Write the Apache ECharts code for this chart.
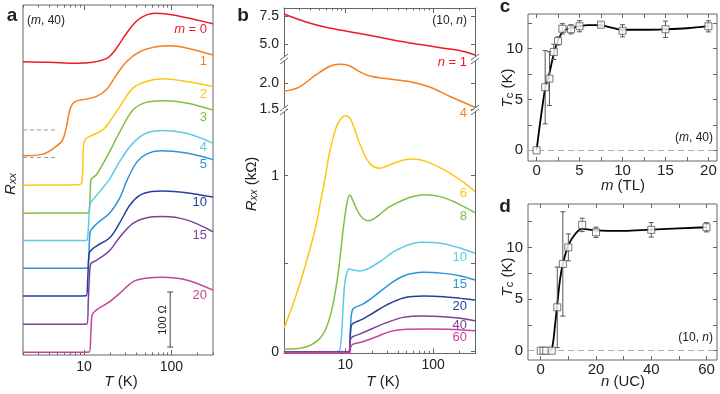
<!DOCTYPE html>
<html>
<head>
<meta charset="utf-8">
<script src="https://cdn.jsdelivr.net/npm/echarts@6/dist/echarts.min.js"></script>
<style>
html, body { margin: 0; padding: 0; background: #fff; }
#chart { width: 720px; height: 394px; }
</style>
</head>
<body>
<div id="chart"></div>
<script>
var FONT = 'Liberation Sans';
var INK = '#222';
var AXIS = '#666';

// ---- panel a : (m, 40), curves offset, [T (K), R (ohm)]
var aM0 = [[2,533],[4,532],[8.2,530],[12.6,532],[18.2,539],[22.4,553],[30.8,585],[40,607],[52,618],[65,621],[85,620],[150,613],[300,602]];
var aM1 = [[2,362],[3.4,365],[4.8,379],[5.7,391],[6.3,415],[6.9,446],[7.8,460],[10.6,465],[13.9,470],[18,482],[23.5,509],[30.6,533],[43.4,551],[67,560],[96,562],[149,558],[300,545]];
var aM2 = [[2,308.5],[5.3,309],[8.9,310],[9.4,313],[9.66,336],[9.8,372],[9.95,385],[10.45,393],[11.6,397],[16.4,409],[19.7,424],[25.6,451],[36.3,485],[51.3,497],[80,502],[149,497],[300,488]];
var aM3 = [[2,257.6],[5.3,258],[11.0,258],[11.5,264],[11.8,300],[12.0,318],[13.9,328],[19.7,370],[25.6,405],[36.3,445],[51.3,459],[80,462],[149,458],[300,445]];
var aM4 = [[2,208],[5.3,208],[10.6,208],[11.0,215],[11.3,240],[11.6,270],[11.9,277],[13.9,290],[19.7,320],[25.6,352],[36.3,385],[51.3,403],[80,408],[149,403],[300,385]];
var aM5 = [[2,157.6],[5.3,157.6],[11.0,158],[11.3,175],[11.6,215],[11.9,226],[13.9,238],[19.7,258],[25.6,285],[30.6,315],[40,350],[52,365],[75,371],[149,367],[300,355]];
var aM10 = [[2,107],[5.3,107],[10.6,107.5],[11.0,135],[11.3,175],[11.6,187],[13.9,198],[19.7,213],[25.6,240],[33.4,272],[43.4,290],[60,297],[80,298],[149,295],[300,287]];
var aM15 = [[2,56],[5.3,56],[10.8,56.5],[11.2,100],[11.6,150],[12.0,166],[13.9,172],[19.7,190],[25.6,214],[36.3,239],[51.3,249],[80,251.5],[149,245.5],[300,224]];
var aM20 = [[2,5],[5.3,5],[11.5,5.5],[11.9,30],[12.2,65],[12.5,74],[13.9,82],[19.7,97],[25.6,112],[36.3,133],[51.3,139.5],[80,141.3],[149,136.4],[300,118]];
var aLabels = ['m = 0', '1', '2', '3', '4', '5', '10', '15', '20'];
var aScaleBar = [97, 14.5, 114.5];   // T, R from, R to (100 ohm)
var aDashLevels = [409, 359];
var aDashT = [2, 5];

// ---- panel b : (10, n), [T (K), R (kohm)]
var bN1 = [[2,7.68],[3.5,6.99],[6.0,6.49],[11.1,6.10],[20.7,5.71],[35,5.36],[65,5.0],[121,4.67],[206,4.40],[300,4.02]];
var bN4 = [[2,1.852],[2.94,1.923],[4.6,2.16],[6.5,2.319],[8.5,2.365],[11.1,2.338],[14.5,2.223],[18.9,2.14],[32,2.083],[55,2.031],[93,1.923],[158,1.742],[300,1.54]];
var bN6 = [[2,0.133],[2.7,0.31],[3.5,0.49],[4.6,0.71],[5.2,0.85],[5.9,0.99],[6.6,1.13],[7.8,1.27],[8.9,1.325],[10,1.34],[11.6,1.315],[14.5,1.184],[18.9,1.07],[24.7,1.042],[32,1.061],[46,1.089],[60,1.095],[85,1.08],[145,1.023],[225,0.96],[300,0.909]];
var bN8 = [[2,0.014],[3.5,0.025],[5,0.07],[6,0.13],[7.1,0.25],[8.15,0.42],[8.9,0.58],[9.7,0.74],[10.6,0.86],[11.3,0.89],[12.1,0.862],[13.9,0.795],[15.8,0.758],[18.1,0.744],[21.6,0.758],[26.9,0.795],[32,0.824],[55,0.877],[78,0.892],[121,0.881],[189,0.843],[300,0.79]];
var bN10 = [[2,0],[8.0,0],[8.6,0.01],[9.0,0.08],[9.4,0.24],[9.8,0.38],[10.3,0.44],[11.0,0.47],[12.2,0.465],[14.5,0.459],[17.3,0.467],[24.7,0.511],[38.5,0.578],[71.5,0.622],[121,0.616],[189,0.593],[300,0.559]];
var bN15 = [[2,0],[10.9,0],[11.3,0.08],[11.6,0.19],[12.0,0.235],[12.7,0.25],[15.8,0.27],[20.7,0.31],[29.4,0.37],[45.8,0.43],[78,0.451],[132,0.445],[206,0.43],[300,0.407]];
var bN20 = [[2,0],[11.0,0],[11.3,0.06],[11.6,0.14],[12.1,0.16],[15.8,0.185],[20.7,0.22],[29.4,0.265],[45.8,0.305],[78,0.316],[132,0.3125],[206,0.303],[300,0.294]];
var bN40 = [[2,0],[11.0,0],[11.3,0.045],[11.7,0.08],[14.5,0.1],[20.7,0.133],[29.4,0.165],[45.8,0.195],[78,0.203],[132,0.199],[206,0.19],[300,0.176]];
var bN60 = [[2,-0.006],[11.2,-0.006],[11.5,0.025],[12.1,0.042],[15.8,0.057],[22.6,0.085],[32,0.114],[50,0.127],[85,0.129],[145,0.127],[300,0.119]];
var bLabels = ['n = 1', '4', '6', '8', '10', '15', '20', '40', '60'];

// ---- panel c : Tc vs m
var cM   = [0, 1, 1.5, 2, 2.5, 3, 4, 5, 7.5, 10, 15, 20];
var cTc  = [0, 6.2, 7.05, 9.67, 10.75, 11.95, 11.9, 12.2, 12.35, 11.75, 11.9, 12.19];
var cErr = [0, 3.6, 2.65, 0.75, 0.4, 0.5, 0.45, 0.55, 0.2, 0.6, 0.8, 0.55];
var cFit = [[0,0],[1,6.1],[1.5,7.6],[2,9.5],[2.5,10.8],[3,11.6],[3.5,11.9],[4,12.0],[5,12.2],[6,12.3],[7.5,12.3],[8.5,12.1],[10,11.85],[12.5,11.85],[15,11.9],[17.5,12.0],[20,12.2]];

// ---- panel d : Tc vs n
var dN   = [0, 1, 2, 4, 6, 8, 10, 15, 20, 40, 60];
var dTc  = [0, 0, 0, 0, 4.2, 8.4, 10.0, 12.18, 11.46, 11.7, 11.95];
var dErr = [0, 0, 0, 0, 3.9, 5.05, 1.3, 0.65, 0.5, 0.7, 0.45];
var dFit = [[0,0],[3.5,0],[4.3,0.5],[5,2],[6,4.5],[7,6.9],[8,8.4],[10,10.2],[12.5,11.3],[15,11.8],[20,11.65],[30,11.6],[40,11.72],[60,11.95]];

var majorT = [10, 100];
var minorT = [2, 3, 4, 5, 6, 7, 8, 9, 20, 30, 40, 50, 60, 70, 80, 90, 200, 300];

var palette = ['#ec1c24', '#f47f20', '#fcc710', '#80bf40', '#5ecbe6', '#2f93da', '#29409a', '#7d3f9c', '#c5449b'];

var chart = echarts.init(document.getElementById('chart'));

var xAxes = [], yAxes = [], series = [], graphics = [];

function ticks(len, values) {
    return { show: true, inside: true, length: len, customValues: values, lineStyle: { color: AXIS, width: 1 } };
}

function addLogX(grid, pos, labels, line) {
    xAxes.push({
        type: 'log', logBase: 10, gridIndex: grid, position: pos, min: 2, max: 300,
        axisLine: { show: line, onZero: false, lineStyle: { color: AXIS } },
        axisTick: ticks(5, majorT),
        axisLabel: { show: labels, customValues: majorT, color: INK, fontFamily: FONT, fontSize: 14, margin: 5 },
        splitLine: { show: false }
    });
    var idx = xAxes.length - 1;
    xAxes.push({
        type: 'log', logBase: 10, gridIndex: grid, position: pos, min: 2, max: 300,
        axisLine: { show: false, onZero: false }, axisTick: ticks(2.5, minorT),
        axisLabel: { show: false }, splitLine: { show: false }
    });
    return idx;
}

function addValX(grid, pos, min, max, tickVals, labelVals, size) {
    xAxes.push({
        type: 'value', gridIndex: grid, position: pos, min: min, max: max,
        axisLine: { show: false, onZero: false }, axisTick: ticks(4, tickVals),
        axisLabel: { show: !!labelVals, customValues: labelVals || [], color: INK, fontFamily: FONT, fontSize: size, margin: 2 },
        splitLine: { show: false }
    });
    return xAxes.length - 1;
}

function addY(grid, pos, min, max, tickVals, labelVals, line, fmt, size) {
    yAxes.push({
        type: 'value', gridIndex: grid, position: pos, min: min, max: max,
        axisLine: { show: line, onZero: false, lineStyle: { color: AXIS } },
        axisTick: ticks(4, tickVals),
        axisLabel: { show: !!labelVals, customValues: labelVals || [], color: INK, fontFamily: FONT, fontSize: size || 14, margin: 5, formatter: fmt },
        splitLine: { show: false }
    });
    return yAxes.length - 1;
}

// grids
var frame = { show: true, borderColor: AXIS, borderWidth: 1, backgroundColor: 'transparent' };
var grids = [
    Object.assign({ left: 23, top: 5, width: 190, height: 350 }, frame),
    { left: 284, top: 8, width: 191, height: 51 },
    { left: 284, top: 59, width: 191, height: 51 },
    { left: 284, top: 110, width: 191, height: 243.3 },
    Object.assign({ left: 528, top: 14, width: 189, height: 147 }, frame),
    Object.assign({ left: 528, top: 204, width: 189, height: 156 }, frame)
];
grids.forEach(function (g) { g.outerBoundsMode = 'none'; });

// panel a axes
var axA = addLogX(0, 'bottom', true, false);
addLogX(0, 'top', false, false);
var ayA = yAxes.push({ type: 'value', gridIndex: 0, min: 0, max: 636, show: false, axisLine: { onZero: false } }) - 1;

// panel b axes
var axB3 = addLogX(3, 'bottom', true, true);
var axB1 = addLogX(1, 'top', false, true);
var axB2 = xAxes.push({ type: 'log', gridIndex: 2, min: 2, max: 300, show: false, axisLine: { onZero: false } }) - 1;
var fmt1 = function (v) { return Number(v).toFixed(1); };
var fmt0 = function (v) { return String(Math.round(v)); };
var ayB1 = addY(1, 'left', 3.66, 8.21, [5, 7.5], [5, 7.5], true, fmt1);
addY(1, 'right', 3.66, 8.21, [5, 7.5], null, true);
var ayB2 = addY(2, 'left', 1.487, 2.467, [1.5, 2], [1.5, 2], true, fmt1);
addY(2, 'right', 1.487, 2.467, [1.5, 2], null, true);
var ayB3 = addY(3, 'left', -0.009, 1.373, [0, 0.5, 1], [0, 1], true, fmt0);
addY(3, 'right', -0.009, 1.373, [0, 0.5, 1], null, true);

// panel c axes
var cTicksX = [0, 2.5, 5, 7.5, 10, 12.5, 15, 17.5, 20];
var tcTicks = [0, 2.5, 5, 7.5, 10, 12.5];
var axC = addValX(4, 'bottom', -1, 21, cTicksX, [0, 5, 10, 15, 20], 15);
addValX(4, 'top', -1, 21, cTicksX, null, 15);
var ayC = addY(4, 'left', -1.05, 13.4, tcTicks, [0, 5, 10], false, fmt0, 15);
addY(4, 'right', -1.05, 13.4, tcTicks, null, false);

// panel d axes
var dTicksX = [0, 10, 20, 30, 40, 50, 60];
var axD = addValX(5, 'bottom', -4.6, 63.8, dTicksX, [0, 20, 40, 60], 15);
addValX(5, 'top', -4.6, 63.8, dTicksX, null, 15);
var ayD = addY(5, 'left', -0.9, 14.2, tcTicks, [0, 5, 10], false, fmt0, 15);
addY(5, 'right', -0.9, 14.2, tcTicks, null, false);

function curve(data, color, xi, yi) {
    return {
        type: 'line', xAxisIndex: xi, yAxisIndex: yi, data: data,
        smooth: 0.35, symbol: 'none', showSymbol: false,
        lineStyle: { color: color, width: 1.5 }, z: 3, silent: true
    };
}

// panel a series
[aM0, aM1, aM2, aM3, aM4, aM5, aM10, aM15, aM20].forEach(function (d, i) {
    series.push(curve(d, palette[i], axA, ayA));
});
aDashLevels.forEach(function (lv) {
    series.push({
        type: 'line', xAxisIndex: axA, yAxisIndex: ayA, symbol: 'none', silent: true,
        data: [[aDashT[0], lv], [aDashT[1], lv]],
        lineStyle: { color: '#999', width: 1, type: [4, 3] }, z: 2
    });
});
series.push({
    type: 'custom', xAxisIndex: axA, yAxisIndex: ayA, coordinateSystem: 'cartesian2d', silent: true,
    data: [aScaleBar], encode: { x: 0, y: 1 }, z: 4,
    renderItem: function (p, api) {
        var a = api.coord([api.value(0), api.value(1)]);
        var b = api.coord([api.value(0), api.value(2)]);
        var st = { stroke: '#444', lineWidth: 1 };
        return { type: 'group', children: [
            { type: 'line', shape: { x1: a[0], y1: a[1], x2: b[0], y2: b[1] }, style: st },
            { type: 'line', shape: { x1: a[0] - 3, y1: a[1], x2: a[0] + 3, y2: a[1] }, style: st },
            { type: 'line', shape: { x1: b[0] - 3, y1: b[1], x2: b[0] + 3, y2: b[1] }, style: st }
        ] };
    }
});

// panel b series
series.push(curve(bN1, palette[0], axB1, ayB1));
series.push(curve(bN4, palette[1], axB2, ayB2));
[bN6, bN8, bN10, bN15, bN20, bN40, bN60].forEach(function (d, i) {
    series.push(curve(d, palette[i + 2], axB3, ayB3));
});

// panels c, d
function errorBars(xi, yi, xs, ys, es) {
    var data = [];
    for (var i = 0; i < xs.length; i++) if (es[i] > 0) data.push([xs[i], ys[i], es[i]]);
    return {
        type: 'custom', xAxisIndex: xi, yAxisIndex: yi, coordinateSystem: 'cartesian2d', silent: true,
        data: data, encode: { x: 0, y: 1 }, z: 4,
        renderItem: function (p, api) {
            var x = api.value(0), y = api.value(1), e = api.value(2);
            var t = api.coord([x, y + e]), b = api.coord([x, y - e]);
            var st = { stroke: '#555', lineWidth: 1 };
            return { type: 'group', children: [
                { type: 'line', shape: { x1: t[0], y1: t[1], x2: b[0], y2: b[1] }, style: st },
                { type: 'line', shape: { x1: t[0] - 2.5, y1: t[1], x2: t[0] + 2.5, y2: t[1] }, style: st },
                { type: 'line', shape: { x1: b[0] - 2.5, y1: b[1], x2: b[0] + 2.5, y2: b[1] }, style: st }
            ] };
        }
    };
}
function tcPanel(xi, yi, xs, ys, es, fit) {
    series.push({
        type: 'line', xAxisIndex: xi, yAxisIndex: yi, data: fit, smooth: 0.35,
        symbol: 'none', silent: true, lineStyle: { color: '#000', width: 1.8 }, z: 3,
        markLine: {
            silent: true, symbol: 'none', label: { show: false },
            lineStyle: { color: '#aaa', width: 1, type: [6, 4] },
            data: [{ yAxis: 0 }]
        }
    });
    series.push(errorBars(xi, yi, xs, ys, es));
    series.push({
        type: 'scatter', xAxisIndex: xi, yAxisIndex: yi, silent: true, symbol: 'rect', symbolSize: 7,
        data: xs.map(function (x, i) { return [x, ys[i]]; }),
        itemStyle: { color: '#fff', borderColor: '#555', borderWidth: 1 }, z: 5
    });
}
tcPanel(axC, ayC, cM, cTc, cErr, cFit);
tcPanel(axD, ayD, dN, dTc, dErr, dFit);

// text annotations
function txt(x, y, text, o) {
    o = o || {};
    return {
        type: 'text', x: x, y: y, rotation: o.rot || 0, z: 100, silent: true,
        style: {
            text: text, fill: o.color || INK, fontFamily: FONT, fontSize: o.size || 13,
            fontWeight: o.bold ? 'bold' : 'normal',
            align: o.align || 'center', verticalAlign: 'middle',
            rich: {
                i: { fontStyle: 'italic', fontFamily: FONT, fontSize: o.size || 13, fill: o.color || INK },
                s: { fontStyle: o.subItalic ? 'italic' : 'normal', fontFamily: FONT, fontSize: Math.round((o.size || 13) * 0.7), fill: o.color || INK, verticalAlign: 'bottom' }
            }
        }
    };
}

// panel letters
graphics.push(txt(12, 16, 'a', { bold: true, size: 19 }));
graphics.push(txt(243, 16, 'b', { bold: true, size: 19 }));
graphics.push(txt(505, 7, 'c', { bold: true, size: 19 }));
graphics.push(txt(505, 207, 'd', { bold: true, size: 19 }));

// panel a texts
graphics.push(txt(27, 21, '({i|m}, 40)', { align: 'left', size: 12 }));
var aLabelY = [29, 61, 94, 117, 147, 164, 202, 235, 295];
aLabels.forEach(function (t, i) {
    var s = i === 0 ? '{i|m} = 0' : t;
    graphics.push(txt(207, aLabelY[i], s, { align: 'right', color: palette[i], size: 13 }));
});
graphics.push(txt(163, 320, '100 Ω', { rot: Math.PI / 2, size: 11 }));
graphics.push(txt(11, 184, '{i|R}{s|xx}', { rot: Math.PI / 2, size: 15, subItalic: true }));
graphics.push(txt(121, 382, '{i|T} (K)', { size: 15 }));

// panel b texts
graphics.push(txt(467, 21, '(10, {i|n})', { align: 'right', size: 12 }));
var bLabelY = [62, 113, 193, 216, 257, 284, 306, 325, 337];
bLabels.forEach(function (t, i) {
    var s = i === 0 ? '{i|n} = 1' : t;
    graphics.push(txt(467, bLabelY[i], s, { align: 'right', color: palette[i], size: 13 }));
});
graphics.push(txt(252, 184, '{i|R}{s|xx} (kΩ)', { rot: Math.PI / 2, size: 15, subItalic: true }));
graphics.push(txt(383, 382, '{i|T} (K)', { size: 15 }));

// axis break marks
[[284, 59], [475, 59], [284, 110], [475, 110]].forEach(function (p) {
    var cx = p[0], cy = p[1];
    graphics.push({ type: 'rect', z: 99, silent: true, shape: { x: cx - 2, y: cy - 2, width: 4, height: 4 }, style: { fill: '#fff' } });
    graphics.push({ type: 'line', z: 100, silent: true, shape: { x1: cx - 4, y1: cy + 1, x2: cx + 4, y2: cy - 5 }, style: { stroke: AXIS, lineWidth: 1 } });
    graphics.push({ type: 'line', z: 100, silent: true, shape: { x1: cx - 4, y1: cy + 5, x2: cx + 4, y2: cy - 1 }, style: { stroke: AXIS, lineWidth: 1 } });
});

// panel c, d texts
graphics.push(txt(713, 138, '({i|m}, 40)', { align: 'right', size: 12 }));
graphics.push(txt(508, 88, '{i|T}{s|c} (K)', { rot: Math.PI / 2, size: 15 }));
graphics.push(txt(623, 186, '{i|m} (TL)', { size: 15 }));
graphics.push(txt(713, 338, '(10, {i|n})', { align: 'right', size: 12 }));
graphics.push(txt(508, 277, '{i|T}{s|c} (K)', { rot: Math.PI / 2, size: 15 }));
graphics.push(txt(623, 382, '{i|n} (UC)', { size: 15 }));

chart.setOption({
    animation: false,
    backgroundColor: '#fff',
    textStyle: { fontFamily: FONT },
    grid: grids,
    xAxis: xAxes,
    yAxis: yAxes,
    series: series,
    graphic: { elements: graphics }
});
</script>
</body>
</html>
